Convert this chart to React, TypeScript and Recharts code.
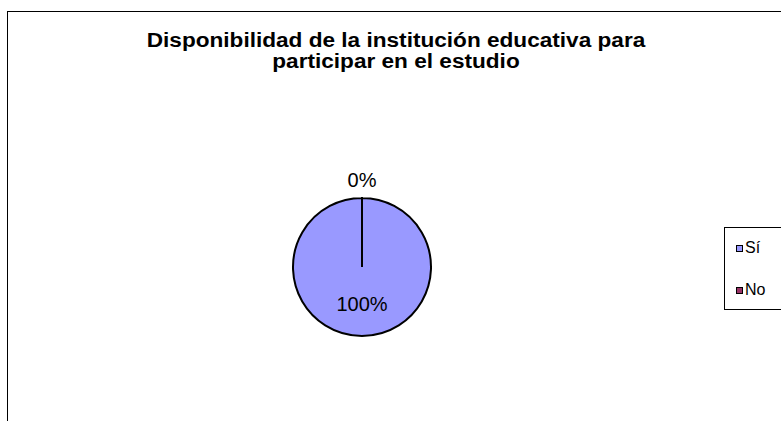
import React from "react"
import { PieChart, Pie, Cell, Legend } from "recharts"

const title = ["Disponibilidad de la institución educativa para", "participar en el estudio"]
const categories = ["Sí", "No"]
const values = [100, 0]
const colors = ["#9999FF", "#993366"]

const data = categories.map((name, i) => ({ name, value: values[i] }))

const FONT = "'Liberation Sans', Arial, sans-serif"
const RADIAN = Math.PI / 180

const renderLabel = (props: any) => {
  const { cx, cy, midAngle, outerRadius, percent, index } = props
  // the big slice gets its label inside, the empty one sits outside the rim
  const r = percent > 0.5 ? outerRadius * 0.53 : outerRadius + 18
  const x = cx + r * Math.cos(-midAngle * RADIAN)
  const y = cy + r * Math.sin(-midAngle * RADIAN)
  return (
    <text
      key={`lbl-${index}`}
      x={x}
      y={y}
      dy="0.36em"
      textAnchor="middle"
      fill="#000"
      fontSize={20}
      fontFamily={FONT}
    >
      {`${Math.round(percent * 100)}%`}
    </text>
  )
}

const LegendBox = (props: any) => {
  const payload = [...(props.payload || [])].sort(
    (a: any, b: any) => categories.indexOf(a.value) - categories.indexOf(b.value)
  )
  return (
    <div
      style={{
        width: 70,
        height: 81,
        border: "1px solid #000",
        background: "#fff",
        fontFamily: FONT,
        fontSize: 16,
        color: "#000",
        position: "relative",
      }}
    >
      {payload.map((p: any, i: number) => (
        <div
          key={p.value}
          style={{ position: "absolute", left: 11, top: 11 + i * 42, display: "flex", alignItems: "center", lineHeight: "18px" }}
        >
          <span
            style={{
              display: "inline-block",
              width: 5,
              height: 5,
              border: "1.5px solid #000",
              background: p.color,
              marginRight: 2,
            }}
          />
          <span>{p.value}</span>
        </div>
      ))}
    </div>
  )
}

export default function App() {
  return (
    <div style={{ position: "fixed", left: 0, top: 0, width: 781, height: 421, overflow: "hidden", background: "#fff" }}>
      <div
        style={{
          position: "absolute",
          left: 7,
          top: 11,
          width: 820,
          height: 460,
          border: "1px solid #000",
        }}
      />
      <div
        style={{
          position: "absolute",
          left: 0,
          top: 30,
          width: 792,
          textAlign: "center",
          fontFamily: FONT,
          fontWeight: "bold",
          fontSize: 20,
          lineHeight: "21px",
          color: "#000",
          transform: "scaleX(1.13)",
          transformOrigin: "396px 0",
        }}
      >
        {title.map((t) => (
          <div key={t}>{t}</div>
        ))}
      </div>
      <div style={{ position: "absolute", left: 0, top: 0 }}>
        <PieChart width={781} height={421} margin={{ top: 0, right: 0, bottom: 0, left: 0 }}>
          <Pie
            data={data}
            dataKey="value"
            nameKey="name"
            cx={362}
            cy={267}
            outerRadius={69}
            startAngle={90}
            endAngle={-270}
            stroke="#000"
            strokeWidth={2}
            label={renderLabel}
            labelLine={false}
            isAnimationActive={false}
          >
            {data.map((d, i) => (
              <Cell key={d.name} fill={colors[i]} />
            ))}
          </Pie>
          <Legend
            layout="vertical"
            content={<LegendBox />}
            wrapperStyle={{ position: "absolute", left: 724, top: 227, width: 70, height: 83 }}
          />
        </PieChart>
      </div>
    </div>
  )
}
